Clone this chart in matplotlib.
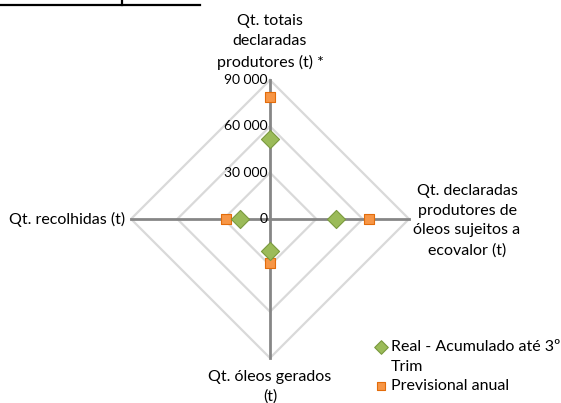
import numpy as np
import matplotlib
matplotlib.use("Agg")
import matplotlib.pyplot as plt
from matplotlib.lines import Line2D
from matplotlib.transforms import offset_copy

plt.rcParams['font.family'] = ['Lato', 'DejaVu Sans']

categories = ["Qt. totais\ndeclaradas\nprodutores (t) *",
              "Qt. declaradas\nprodutores de\nóleos sujeitos a\necovalor (t)",
              "Qt. óleos gerados\n(t)",
              "Qt. recolhidas (t)"]
real = [52000, 43000, 21000, 19500]
prev = [79000, 64000, 28500, 28500]
series_names = ["Real - Acumulado até 3º", "Previsional anual"]
series_name_cont = "Trim"
r_ticks = [0, 30000, 60000, 90000]
r_tick_labels = ["0", "30 000", "60 000", "90 000"]

W, H = 561, 403
fig = plt.figure(figsize=(W / 100, H / 100), dpi=100)

cx, cy, R = 270, 219, 139
ax = fig.add_axes([(cx - R) / W, (H - cy - R) / H, 2 * R / W, 2 * R / H], projection='polar')
ax.set_theta_offset(np.pi / 2)
ax.set_theta_direction(-1)
ax.set_ylim(0, 90000)
ax.grid(False)
ax.spines['polar'].set_visible(False)
ax.set_xticks([])
ax.set_yticks([])
ax.patch.set_alpha(0)

n = len(categories)
theta = np.arange(n) * 2 * np.pi / n
theta_closed = np.append(theta, theta[0])

# polygon gridlines
for rv in r_ticks[1:]:
    ax.plot(theta_closed, [rv] * (n + 1), color='#D9D9D9', lw=1.6, zorder=1, clip_on=False)
# spokes
for t in theta:
    ax.plot([t, t], [0, 90000], color='#868686', lw=2.0, zorder=2, clip_on=False)

h1 = ax.scatter(theta, real, marker='D', s=85, color='#9BBB59', edgecolor='#7A9A3E',
                linewidth=0.8, zorder=5, clip_on=False, label=series_names[0])
h2 = ax.scatter(theta, prev, marker='s', s=55, color='#F79646', edgecolor='#E36C0A',
                linewidth=0.8, zorder=4, clip_on=False, label=series_names[1])

# radial tick labels
tr = offset_copy(ax.transData, fig=fig, x=-2, y=0, units='dots')
for rv, lab in zip(r_ticks, r_tick_labels):
    ax.text(0, rv, lab, transform=tr, ha='right', va='center', fontsize=10, color='#000000', zorder=6)

# category labels
fs = 11.5
ls = 1.5
fig.text(270 / W, 1 - 14 / H, categories[0], ha='center', va='top', fontsize=fs, linespacing=1.58)
fig.text(467 / W, 1 - 221 / H, categories[1], ha='center', va='center', fontsize=fs, linespacing=ls)
fig.text(270 / W, 1 - 370 / H, categories[2], ha='center', va='top', fontsize=fs, linespacing=ls)
fig.text(125 / W, 1 - 219 / H, categories[3], ha='right', va='center', fontsize=fs)

blank = Line2D([], [], linestyle='none', marker='none')
leg = fig.legend(handles=[h1, blank, h2], labels=[series_names[0], series_name_cont, series_names[1]],
                 loc='upper left', bbox_to_anchor=(376 / W, 1 - 340 / H),
                 frameon=False, fontsize=fs, handlelength=0.6, handletextpad=0.35,
                 labelspacing=0.34, borderpad=0, borderaxespad=0, markerscale=0.75)

# table fragment at top
fig.add_artist(Line2D([0, 200 / W], [1 - 5 / H, 1 - 5 / H], color='black', lw=1.6, transform=fig.transFigure))
fig.add_artist(Line2D([122 / W, 122 / W], [1, 1 - 5 / H], color='black', lw=1.6, transform=fig.transFigure))

fig.savefig('out.png', dpi=100)
